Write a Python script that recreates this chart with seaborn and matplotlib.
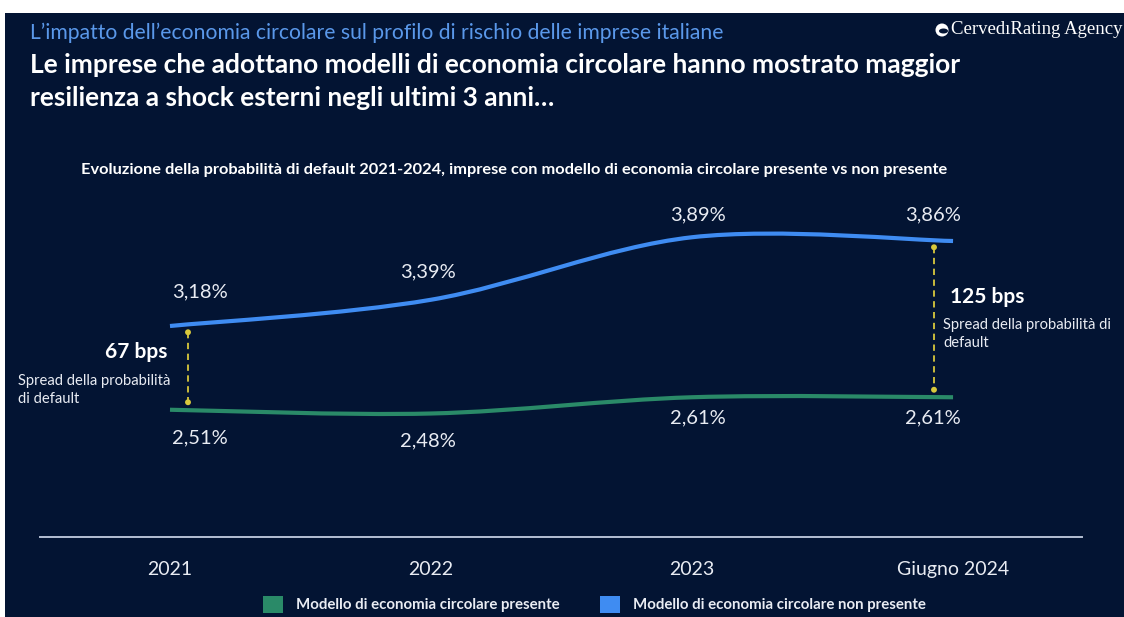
import numpy as np
import pandas as pd
import matplotlib
matplotlib.use("Agg")
import matplotlib.pyplot as plt
import seaborn as sns
from matplotlib.path import Path
from matplotlib.patches import PathPatch, Rectangle, Circle, Ellipse

# ---- data -------------------------------------------------------------
periodi = ["2021", "2022", "2023", "Giugno 2024"]
pd_presente = [2.51, 2.48, 2.61, 2.61]          # % probability of default
pd_non_presente = [3.18, 3.39, 3.89, 3.86]
serie = ["Modello di economia circolare presente",
         "Modello di economia circolare non presente"]

# ---- style ------------------------------------------------------------
W, H = 1124, 617
BG = "#031433"
GREEN = "#2a8a68"
BLUE = "#3f8cf2"
YELLOW = "#d8c83c"
TXT = "#e9ecf3"

sns.set_theme(style="white", rc={"axes.facecolor": "none",
                                 "figure.facecolor": "white"})
plt.rcParams["font.family"] = ["Lato", "DejaVu Sans"]

fig = plt.figure(figsize=(W / 100, H / 100), dpi=100)


def fx(x):
    return x / W


def fy(y):
    return 1 - y / H


# dark panel behind everything
fig.patches.append(Rectangle((fx(5), 0), 1 - fx(5), fy(13), transform=fig.transFigure,
                             facecolor=BG, edgecolor="none", zorder=-10))

ax = fig.add_axes([fx(40), fy(537), fx(1082) - fx(40), fy(180) - fy(537)])
ax.set_zorder(1)
ax.set_xlim(-0.498, 3.494)
ax.set_ylim(1.492, 4.348)

df = pd.DataFrame({"pos": np.arange(len(periodi)),
                   "periodo": periodi,
                   "presente": pd_presente,
                   "non_presente": pd_non_presente})


def smooth_path(xs, ys):
    """Catmull-Rom curve through the points, expressed as cubic Bezier segments."""
    pts = np.column_stack([xs, ys]).astype(float)
    ext = np.vstack([pts[0], pts, pts[-1]])
    verts, codes = [pts[0]], [Path.MOVETO]
    for i in range(len(pts) - 1):
        p0, p1, p2, p3 = ext[i], ext[i + 1], ext[i + 2], ext[i + 3]
        verts += [p1 + (p2 - p0) / 6, p2 - (p3 - p1) / 6, p2]
        codes += [Path.CURVE4] * 3
    return Path(verts, codes)


for col, color in [("presente", GREEN), ("non_presente", BLUE)]:
    ax.add_patch(PathPatch(smooth_path(df["pos"], df[col]), facecolor="none",
                           edgecolor=color, lw=3.0, capstyle="butt", zorder=3))

# value labels
fmt = lambda v: f"{v:.2f}%".replace(".", ",")
off_blue = [(30, 34), (-3, 28), (6, 22), (-20, 26)]
off_green = [(30, -28), (-3, -27), (6, -21), (-20, -21)]
for i in range(len(periodi)):
    ax.annotate(fmt(pd_non_presente[i]), (i, pd_non_presente[i]), xytext=off_blue[i],
                textcoords="offset pixels", ha="center", va="center",
                fontsize=14.5, color=TXT)
    ax.annotate(fmt(pd_presente[i]), (i, pd_presente[i]), xytext=off_green[i],
                textcoords="offset pixels", ha="center", va="center",
                fontsize=14.5, color=TXT)

# spread markers (first and last period)
spread_pos = [(0, 0.069), (3, 2.927)]
dots = []
for idx, xpos in spread_pos:
    top = pd_non_presente[idx] - 0.05
    bot = pd_presente[idx] + 0.06
    ax.plot([xpos, xpos], [top, bot], color=YELLOW, lw=1.3,
            ls=(0, (3.5, 2.5)), zorder=2)
    dots += [(xpos, top), (xpos, bot)]
dots = pd.DataFrame(dots, columns=["x", "y"])
sns.scatterplot(data=dots, x="x", y="y", ax=ax, color=YELLOW, s=18,
                edgecolor="none", zorder=4, legend=False)

spread = [round((pd_non_presente[i] - pd_presente[i]) * 100) for i in (0, 3)]
fig.text(fx(167), fy(352), f"{spread[0]} bps", ha="right", va="center",
         fontsize=15, fontweight="bold", color="white")
fig.text(fx(18), fy(390), "Spread della probabilità\ndi default", ha="left",
         va="center", fontsize=10.6, color=TXT, linespacing=1.45)
fig.text(fx(950), fy(297), f"{spread[1]} bps", ha="left", va="center",
         fontsize=15, fontweight="bold", color="white")
fig.text(fx(943), fy(334), "Spread della probabilità di\ndefault", ha="left",
         va="center", fontsize=10.6, color=TXT, linespacing=1.45)

# axis
for s in ["top", "right", "left"]:
    ax.spines[s].set_visible(False)
ax.spines["bottom"].set_color("#b5bfd4")
ax.spines["bottom"].set_linewidth(1.4)
ax.set_xticks(df["pos"], periodi)
ax.set_yticks([])
ax.tick_params(axis="x", length=0, pad=17, labelsize=14, labelcolor=TXT)
ax.set_xlabel("")
ax.set_ylabel("")

# titles
fig.text(fx(30), fy(33), "L’impatto dell’economia circolare sul profilo di rischio delle imprese italiane",
         ha="left", va="center", fontsize=15.2, color="#5a98ea")
fig.text(fx(30), fy(65), "Le imprese che adottano modelli di economia circolare hanno mostrato maggior",
         ha="left", va="center", fontsize=19, fontweight="bold", color="white")
fig.text(fx(30), fy(98), "resilienza a shock esterni negli ultimi 3 anni…",
         ha="left", va="center", fontsize=19, fontweight="bold", color="white")
fig.text(fx(514), fy(170),
         "Evoluzione della probabilità di default 2021-2024, imprese con modello di economia circolare presente vs non presente",
         ha="center", va="center", fontsize=11.8, fontweight="bold", color="white")

# brand
fig.patches.append(Circle((942 / 100, (H - 30) / 100), 0.065, transform=fig.dpi_scale_trans,
                          facecolor="white", edgecolor="none"))
fig.patches.append(Ellipse((943.5 / 100, (H - 31) / 100), 0.09, 0.05, transform=fig.dpi_scale_trans,
                           facecolor=BG, edgecolor="none"))
fig.text(fx(951), fy(30), "Cerved\u0131Rating Agency", ha="left", va="center",
         fontsize=13.5, color="white", family=["Liberation Serif", "DejaVu Serif"])

# legend
for (x0, label), color in zip([(263, serie[0]), (600, serie[1])], [GREEN, BLUE]):
    fig.patches.append(Rectangle((fx(x0), fy(613)), fx(20), fy(596) - fy(613),
                                 transform=fig.transFigure, facecolor=color, edgecolor="none"))
    fig.text(fx(x0 + 33), fy(605), label, ha="left", va="center",
             fontsize=10.8, fontweight="bold", color=TXT)

fig.savefig("out.png", dpi=100, facecolor="white")
